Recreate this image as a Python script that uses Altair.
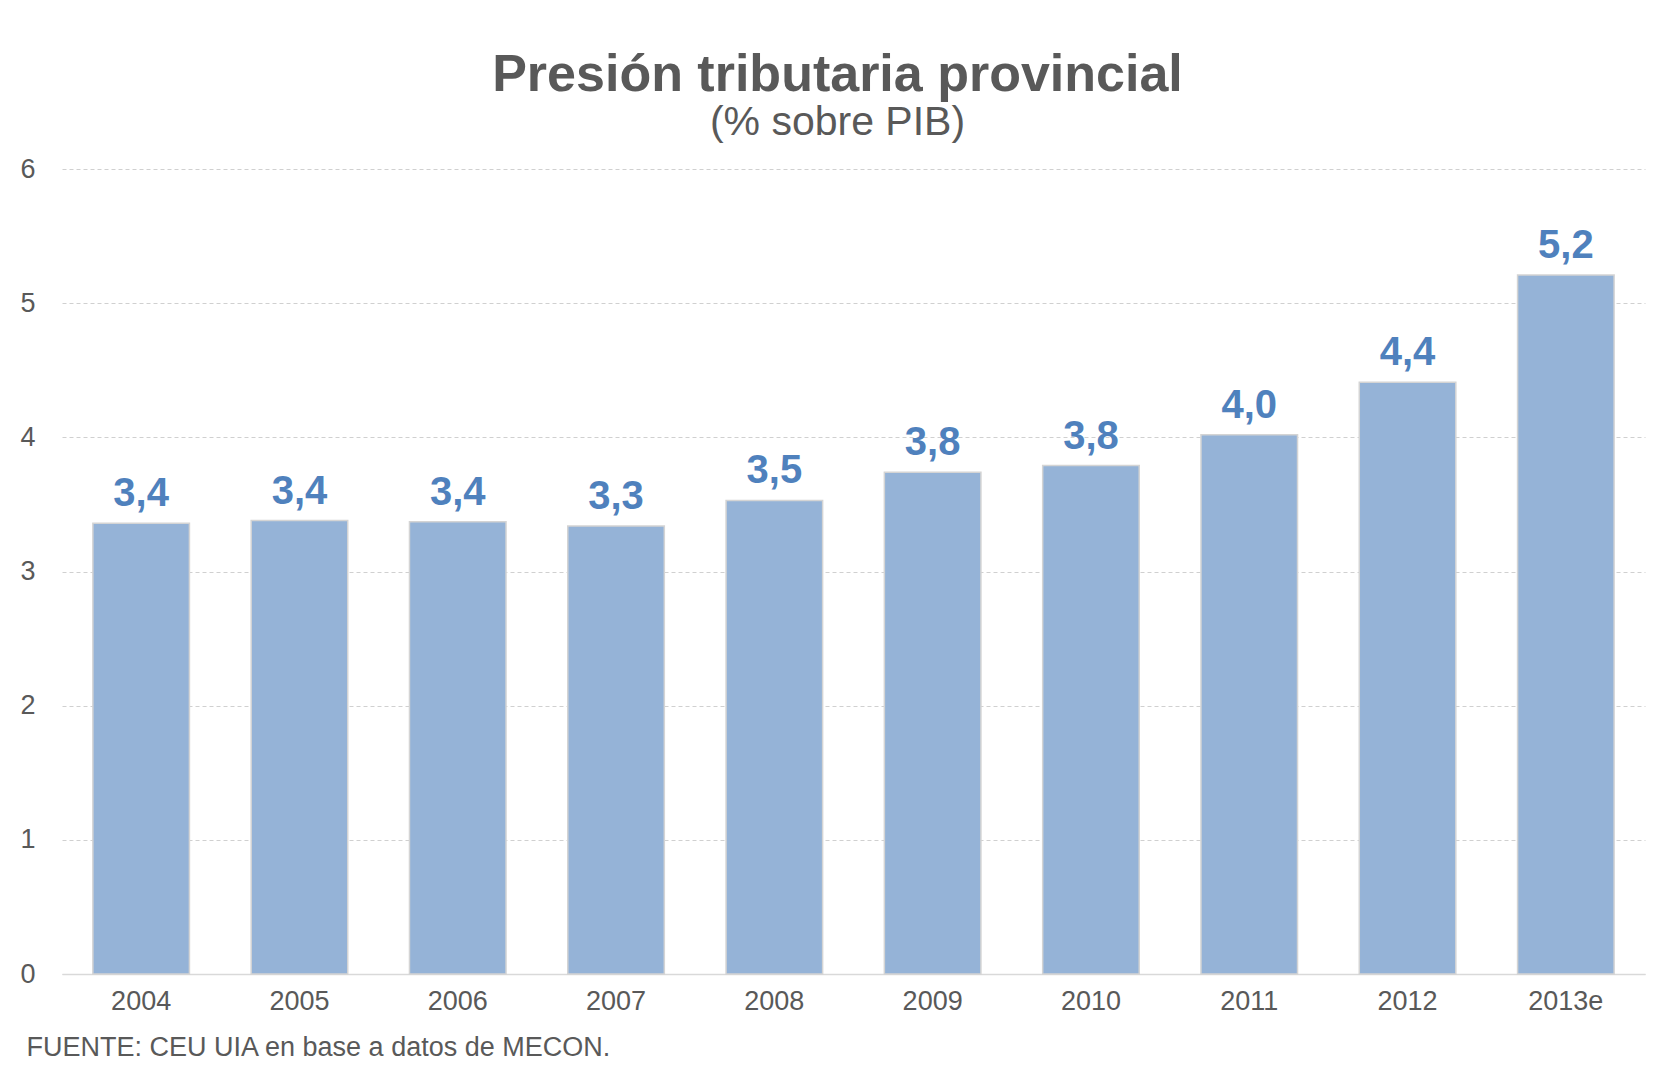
import altair as alt
import pandas as pd

years = ["2004", "2005", "2006", "2007", "2008", "2009", "2010", "2011", "2012", "2013e"]
values = [3.36, 3.38, 3.37, 3.34, 3.53, 3.74, 3.79, 4.02, 4.41, 5.21]
labels = ["3,4", "3,4", "3,4", "3,3", "3,5", "3,8", "3,8", "4,0", "4,4", "5,2"]
y_ticks = [0, 1, 2, 3, 4, 5, 6]

df = pd.DataFrame({"year": years, "value": values, "label": labels})

FONT = "Liberation Sans"
GRAY = "#595959"

x = alt.X(
    "year:N",
    sort=years,
    scale=alt.Scale(paddingInner=0.39, paddingOuter=0.195),
    axis=alt.Axis(
        title="FUENTE: CEU UIA en base a datos de MECON.",
        titleFont=FONT,
        titleFontSize=27,
        titleFontWeight="normal",
        titleColor=GRAY,
        titleAnchor="start",
        titleAlign="left",
        titleBaseline="top",
        titleX=-36,
        titleY=60,
        labelFont=FONT,
        labelFontSize=27,
        labelColor=GRAY,
        labelPadding=14,
        labelAngle=0,
        ticks=False,
        domainColor="#d9d9d9",
        domainWidth=1.5,
        grid=False,
    ),
)

y = alt.Y(
    "value:Q",
    scale=alt.Scale(domain=[0, 6]),
    axis=alt.Axis(
        title=None,
        values=y_ticks,
        labelFont=FONT,
        labelFontSize=27,
        labelColor=GRAY,
        labelPadding=27,
        ticks=False,
        domain=False,
        grid=True,
        gridColor="#d0d0d0",
        gridDash=[4, 3],
        gridWidth=1,
    ),
)

bars = alt.Chart(df).mark_bar(
    color="#95b3d7", stroke="#d4d4d4", strokeWidth=1.5
).encode(x=x, y=y)

text = alt.Chart(df).mark_text(
    font=FONT, fontSize=40, fontWeight="bold", color="#4f81bd",
    baseline="alphabetic", dy=-17
).encode(x=x, y=y, text="label:N")

chart = (
    alt.layer(bars, text)
    .properties(
        width=1583,
        height=805,
        view=alt.ViewBackground(stroke="transparent", strokeWidth=0),
        title=alt.TitleParams(
            text="Presión tributaria provincial",
            subtitle="(% sobre PIB)",
            font=FONT,
            fontSize=52,
            fontWeight="bold",
            color=GRAY,
            subtitleFont=FONT,
            subtitleFontSize=41,
            subtitleColor=GRAY,
            subtitlePadding=1,
            anchor="middle",
            dx=-16,
            offset=11,
        ),
        autosize=alt.AutoSizeParams(type="none"),
        padding={"left": 54, "top": 161, "right": 14, "bottom": 96},
    )
    .configure_view(strokeWidth=0, stroke="transparent")
    .configure(background="white")
)

chart.save("out.html", embed_options={"renderer": "svg", "actions": False})
